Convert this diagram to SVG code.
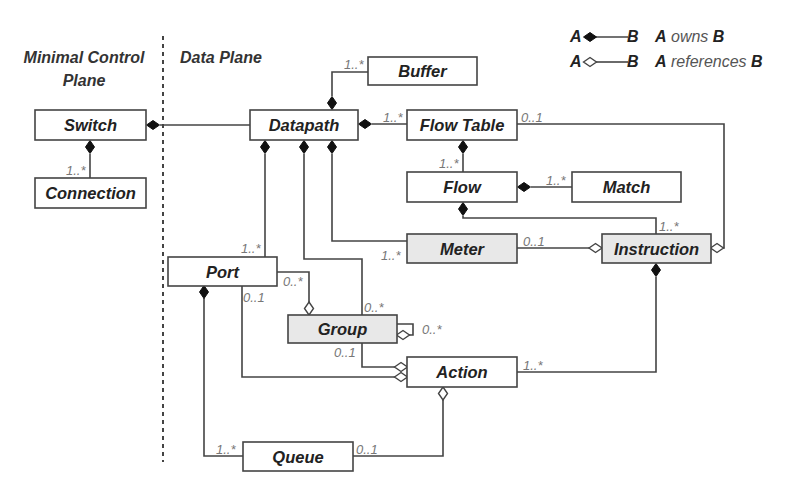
<svg xmlns="http://www.w3.org/2000/svg" width="796" height="500" viewBox="0 0 796 500">
<style>
.box{fill:#fff;stroke:#444;stroke-width:1.6}
.gray{fill:#e8e8e8}
.lbl{font-family:"Liberation Sans",Arial,sans-serif;font-weight:bold;font-style:italic;font-size:16.5px;fill:#222;text-anchor:middle}
.hdr{font-family:"Liberation Sans",Arial,sans-serif;font-weight:bold;font-style:italic;font-size:16px;fill:#333}
.m{font-family:"Liberation Sans",Arial,sans-serif;font-style:italic;font-size:13px;fill:#777}
.c{fill:none;stroke:#444;stroke-width:1.6}
.fd{fill:#111;stroke:#111;stroke-width:1}
.hd{fill:#fff;stroke:#444;stroke-width:1.4}
.leg{font-family:"Liberation Sans",Arial,sans-serif;font-size:16px;fill:#222}
</style>
<defs>
<polygon id="dh" points="-6.5,0 0,-4.5 6.5,0 0,4.5"/>
<polygon id="dv" points="0,-6.5 4.5,0 0,6.5 -4.5,0"/>
</defs>
<rect width="796" height="500" fill="#fff"/>
<line x1="163" y1="36" x2="163" y2="462" stroke="#444" stroke-width="2" stroke-dasharray="4 4"/>
<text class="hdr" x="84" y="63" text-anchor="middle">Minimal Control</text>
<text class="hdr" x="84" y="86" text-anchor="middle">Plane</text>
<text class="hdr" x="180" y="63">Data Plane</text>

<g id="legend">
<text class="leg" x="570" y="42" font-weight="bold" font-style="italic">A</text>
<line class="c" x1="590" y1="37" x2="628" y2="37"/>
<use href="#dh" class="fd" x="590" y="37"/>
<text class="leg" x="627" y="42" font-weight="bold" font-style="italic">B</text>
<text class="leg" x="655" y="42" font-style="italic"><tspan font-weight="bold">A</tspan> <tspan fill="#555">owns</tspan> <tspan font-weight="bold">B</tspan></text>
<text class="leg" x="570" y="67" font-weight="bold" font-style="italic">A</text>
<line class="c" x1="596" y1="62" x2="628" y2="62"/>
<use href="#dh" class="hd" x="590" y="62"/>
<text class="leg" x="627" y="67" font-weight="bold" font-style="italic">B</text>
<text class="leg" x="655" y="67" font-style="italic"><tspan font-weight="bold">A</tspan> <tspan fill="#555">references</tspan> <tspan font-weight="bold">B</tspan></text>
</g>

<g id="connectors">
<polyline class="c" points="160,125 250,125"/>
<polyline class="c" points="90,154 90,178"/>
<polyline class="c" points="332,96 332,72 368,72"/>
<polyline class="c" points="372,124 407,124"/>
<polyline class="c" points="463,154 463,172"/>
<polyline class="c" points="531,187 572,187"/>
<polyline class="c" points="463,216 463,218 656,218 656,234"/>
<polyline class="c" points="517,124 724,124 724,248 723,248"/>
<polyline class="c" points="265,154 265,257"/>
<polyline class="c" points="304,154 304,259 362,259 362,315"/>
<polyline class="c" points="332,154 332,241 407,241"/>
<polyline class="c" points="517,248 589,248"/>
<polyline class="c" points="656,277 656,372 517,372"/>
<polyline class="c" points="277,272 309,272 309,302"/>
<polyline class="c" points="409,335 413,335 413,324 397,324"/>
<polyline class="c" points="362,343 362,367 395,367"/>
<polyline class="c" points="242,286 242,377 395,377"/>
<polyline class="c" points="204,298 204,456 243,456"/>
<polyline class="c" points="443,399 443,456 353,456"/>
<use href="#dh" class="fd" x="153" y="125"/>
<use href="#dv" class="fd" x="90" y="147"/>
<use href="#dv" class="fd" x="332" y="103"/>
<use href="#dh" class="fd" x="365" y="124"/>
<use href="#dv" class="fd" x="463" y="147"/>
<use href="#dh" class="fd" x="524" y="187"/>
<use href="#dv" class="fd" x="463" y="209"/>
<use href="#dh" class="hd" x="717" y="248"/>
<use href="#dv" class="fd" x="265" y="147"/>
<use href="#dv" class="fd" x="304" y="147"/>
<use href="#dv" class="fd" x="332" y="147"/>
<use href="#dh" class="hd" x="595.5" y="248"/>
<use href="#dv" class="fd" x="656" y="270"/>
<use href="#dv" class="hd" x="309" y="308.5"/>
<use href="#dh" class="hd" x="403" y="335"/>
<use href="#dh" class="hd" x="401" y="367"/>
<use href="#dh" class="hd" x="401" y="377"/>
<use href="#dv" class="fd" x="204" y="292"/>
<use href="#dv" class="hd" x="443" y="393.5"/>
</g>

<g id="multiplicities">
<text class="m" x="66" y="175">1..*</text>
<text class="m" x="344" y="69">1..*</text>
<text class="m" x="383" y="122">1..*</text>
<text class="m" x="521" y="122">0..1</text>
<text class="m" x="439" y="168">1..*</text>
<text class="m" x="546" y="185">1..*</text>
<text class="m" x="659" y="231">1..*</text>
<text class="m" x="523" y="246">0..1</text>
<text class="m" x="381" y="260">1..*</text>
<text class="m" x="241" y="253">1..*</text>
<text class="m" x="283" y="286">0..*</text>
<text class="m" x="243" y="302">0..1</text>
<text class="m" x="364" y="312">0..*</text>
<text class="m" x="422" y="334">0..*</text>
<text class="m" x="334" y="357">0..1</text>
<text class="m" x="523" y="370">1..*</text>
<text class="m" x="216" y="454">1..*</text>
<text class="m" x="356" y="454">0..1</text>
</g>

<g id="switch"><rect class="box" x="35" y="110" width="111" height="30"/><text class="lbl" x="90.5" y="131">Switch</text></g>
<g id="connection"><rect class="box" x="35" y="178" width="111" height="30"/><text class="lbl" x="90.5" y="199">Connection</text></g>
<g id="datapath"><rect class="box" x="250" y="110" width="108" height="30"/><text class="lbl" x="304" y="131">Datapath</text></g>
<g id="buffer"><rect class="box" x="368" y="57" width="109" height="28"/><text class="lbl" x="422.5" y="77">Buffer</text></g>
<g id="flowtable"><rect class="box" x="407" y="110" width="110" height="30"/><text class="lbl" x="462" y="131">Flow Table</text></g>
<g id="flow"><rect class="box" x="407" y="172" width="110" height="30"/><text class="lbl" x="462" y="193">Flow</text></g>
<g id="match"><rect class="box" x="572" y="172" width="109" height="30"/><text class="lbl" x="626.5" y="193">Match</text></g>
<g id="meter"><rect class="box gray" x="407" y="234" width="110" height="29"/><text class="lbl" x="462" y="254.5">Meter</text></g>
<g id="instruction"><rect class="box gray" x="602" y="234" width="109" height="29"/><text class="lbl" x="656.5" y="254.5">Instruction</text></g>
<g id="port"><rect class="box" x="168" y="257" width="109" height="29"/><text class="lbl" x="222.5" y="277.5">Port</text></g>
<g id="group"><rect class="box gray" x="288" y="315" width="109" height="28"/><text class="lbl" x="342.5" y="335">Group</text></g>
<g id="action"><rect class="box" x="407" y="357" width="110" height="30"/><text class="lbl" x="462" y="378">Action</text></g>
<g id="queue"><rect class="box" x="243" y="442" width="110" height="29"/><text class="lbl" x="298" y="462.5">Queue</text></g>
</svg>
